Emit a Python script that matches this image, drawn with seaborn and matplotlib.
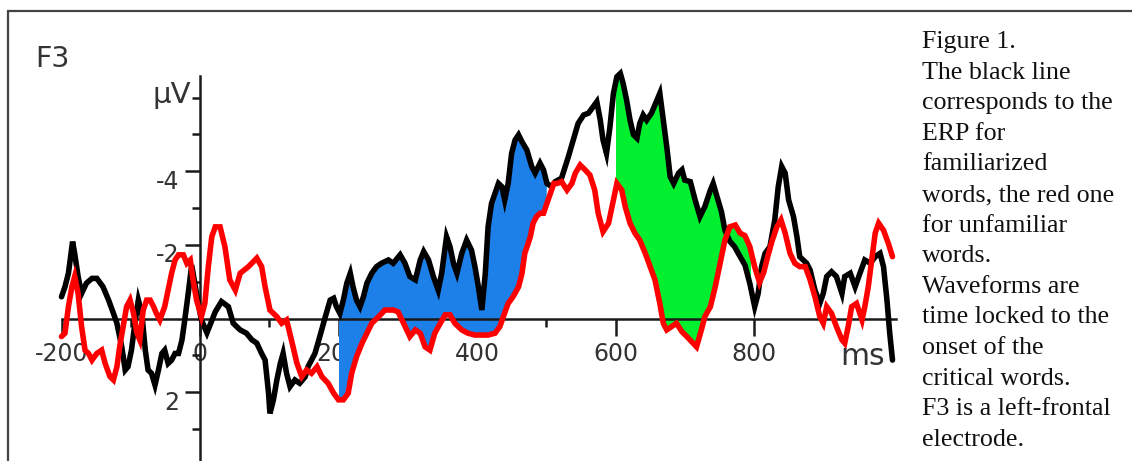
import numpy as np
import matplotlib
matplotlib.use("Agg")
import matplotlib.pyplot as plt
import matplotlib.transforms as mtransforms
from matplotlib.patches import Rectangle
import seaborn as sns

# ---------------- data ----------------
black_t = [-200, -195, -190, -185, -184, -181, -176, -171, -164, -156, -149, -140, -132, -125,
           -120, -113, -108, -104, -99, -94, -89, -84, -79, -75, -70, -65, -60, -55, -51, -46,
           -41, -36, -31, -26, -22, -17, -12, -5, 2, 10, 22, 31, 41, 48, 58, 67, 75, 82, 89,
           94, 99, 101, 106, 111, 116, 120, 125, 130, 137, 144, 152, 156, 161, 166, 173, 181,
           188, 193, 197, 202, 207, 212, 217, 221, 226, 231, 236, 241, 248, 255, 262, 272, 279,
           289, 296, 303, 311, 318, 323, 330, 337, 344, 349, 354, 356, 361, 366, 371, 378, 385,
           392, 397, 402, 407, 412, 416, 421, 426, 431, 436, 440, 445, 450, 455, 460, 465, 472,
           479, 484, 491, 496, 501, 508, 513, 522, 532, 539, 546, 554, 561, 568, 573, 578, 582,
           587, 592, 597, 602, 607, 611, 616, 621, 626, 631, 635, 640, 645, 652, 660, 664, 669,
           674, 679, 684, 691, 696, 700, 708, 715, 722, 729, 737, 741, 748, 753, 758, 765, 772,
           780, 787, 794, 801, 806, 811, 816, 823, 830, 835, 840, 845, 850, 857, 862, 866, 876,
           881, 888, 895, 900, 905, 912, 919, 927, 931, 939, 946, 953, 960, 968, 975, 982, 987,
           992, 996, 1000]
black_v = [-0.59, -0.86, -1.23, -1.95, -2.09, -1.77, -1.14, -0.68, -0.96, -1.09, -1.09, -0.86,
           -0.50, -0.14, 0.13, 0.77, 1.40, 1.31, 0.86, 0.13, -0.50, -0.14, 0.86, 1.40, 1.49,
           1.81, 1.40, 0.95, 0.86, 1.22, 1.13, 0.95, 0.95, 0.58, 0.04, -0.68, -1.45, -0.68,
           0.04, 0.39, -0.18, -0.46, -0.32, 0.13, 0.31, 0.40, 0.58, 0.67, 0.95, 1.13, 2.03,
           2.58, 2.21, 1.67, 1.22, 0.95, 1.49, 1.85, 1.67, 1.76, 1.58, 1.31, 1.13, 0.95, 0.49,
           -0.05, -0.50, -0.55, -0.32, -0.14, -0.50, -0.96, -1.23, -0.86, -0.50, -0.32, -0.59,
           -0.96, -1.23, -1.41, -1.50, -1.59, -1.50, -1.73, -1.50, -1.14, -1.05, -1.59, -1.82,
           -1.59, -1.14, -0.77, -1.23, -1.95, -2.22, -1.95, -1.50, -1.23, -1.77, -2.13, -1.86,
           -1.41, -0.86, -0.23, -1.23, -2.49, -3.13, -3.40, -3.67, -3.58, -3.22, -3.67, -4.49,
           -4.85, -4.99, -4.80, -4.58, -4.13, -3.95, -4.22, -4.04, -3.67, -3.58, -3.72, -3.81,
           -4.40, -4.85, -5.30, -5.53, -5.58, -5.76, -5.89, -5.39, -4.85, -4.49, -5.21, -6.12,
           -6.57, -6.66, -6.39, -5.94, -5.39, -4.99, -4.90, -5.30, -5.53, -5.39, -5.58, -5.94,
           -6.12, -5.39, -4.67, -3.85, -3.67, -3.95, -4.04, -3.76, -3.72, -3.22, -2.77, -3.04,
           -3.49, -3.67, -3.22, -2.90, -2.40, -2.10, -1.95, -1.68, -1.45, -0.95, -0.32, -0.68,
           -1.41, -1.77, -1.95, -2.68, -3.58, -4.13, -3.95, -3.22, -2.77, -2.22, -1.68, -1.50,
           -1.32, -0.77, -0.41, -0.68, -1.14, -1.27, -1.14, -0.68, -1.14, -1.23, -0.86, -1.23,
           -1.59, -1.50, -1.68, -1.77, -1.41, -0.50, 0.40, 1.13]

red_t = [-200, -195, -190, -185, -181, -176, -171, -166, -161, -156, -149, -142, -137, -130,
         -125, -120, -116, -111, -106, -101, -96, -91, -87, -82, -77, -72, -67, -63, -58, -51,
         -46, -41, -36, -31, -24, -19, -14, -10, -5, 2, 7, 12, 17, 22, 29, 36, 43, 51, 58, 70,
         82, 89, 94, 101, 111, 118, 125, 132, 140, 147, 154, 161, 169, 176, 185, 193, 200, 207,
         214, 219, 226, 234, 241, 248, 258, 267, 279, 286, 294, 303, 311, 318, 325, 332, 339,
         347, 354, 361, 368, 378, 387, 397, 407, 416, 426, 433, 438, 445, 452, 460, 465, 469,
         477, 481, 486, 491, 496, 501, 506, 511, 516, 522, 530, 537, 542, 549, 556, 563, 570,
         575, 582, 590, 597, 602, 609, 614, 621, 628, 635, 643, 650, 657, 664, 669, 674, 681,
         688, 696, 703, 710, 717, 724, 729, 737, 744, 751, 758, 765, 773, 780, 787, 794, 801,
         808, 814, 820, 826, 833, 839, 845, 852, 859, 866, 874, 881, 888, 895, 900, 905, 912,
         919, 927, 931, 936, 941, 948, 956, 960, 965, 970, 975, 980, 987, 994, 1000]
red_v = [0.49, 0.40, -0.32, -0.86, -1.14, -0.68, 0.22, 0.86, 0.95, 1.13, 0.95, 0.86, 1.22,
         1.58, 1.67, 1.31, 0.77, 0.22, -0.32, -0.50, -0.14, 0.40, 0.58, -0.23, -0.50, -0.50,
         -0.32, -0.14, 0.04, -0.32, -0.77, -1.23, -1.59, -1.73, -1.73, -1.50, -1.59, -1.05,
         -0.50, -0.05, -0.41, -1.41, -2.22, -2.49, -2.49, -1.95, -1.05, -0.77, -1.23, -1.41,
         -1.64, -1.41, -0.86, -0.23, -0.05, 0.13, 0.04, 0.58, 1.22, 1.58, 1.40, 1.49, 1.31,
         1.58, 1.76, 2.03, 2.21, 2.21, 2.03, 1.49, 1.04, 0.67, 0.40, 0.13, -0.05, -0.23,
         -0.23, -0.18, 0.13, 0.49, 0.31, 0.40, 0.77, 0.86, 0.40, 0.13, -0.10, -0.10, 0.13,
         0.31, 0.40, 0.45, 0.45, 0.45, 0.40, 0.22, -0.05, -0.41, -0.59, -0.86, -1.23, -1.77,
         -2.22, -2.59, -2.77, -2.86, -2.86, -3.13, -3.40, -3.67, -3.67, -3.72, -3.49, -3.67,
         -3.95, -4.17, -4.04, -3.90, -3.49, -2.86, -2.36, -2.59, -3.22, -3.67, -3.49, -3.04,
         -2.59, -2.32, -2.13, -1.77, -1.41, -1.05, -0.41, 0.13, 0.31, 0.22, 0.13, 0.36, 0.49,
         0.63, 0.77, 0.31, -0.05, -0.32, -0.86, -1.50, -2.13, -2.49, -2.54, -2.32, -2.25,
         -1.95, -1.40, -0.98, -1.25, -1.70, -2.10, -2.49, -2.68, -2.32, -1.77, -1.50, -1.41,
         -1.41, -1.05, -0.59, -0.05, 0.13, -0.32, -0.14, 0.22, 0.58, 0.67, 0.22, -0.32, -0.41,
         0.04, -0.32, -0.86, -1.59, -2.32, -2.59, -2.40, -2.04, -1.68]

x_major = [-200, 0, 200, 400, 600, 800]
x_minor = [-100, 100, 300, 500, 700, 900]
x_labels = ["-200", "0", "200", "400", "600", "800"]
y_major = [-4, -2, 2]
y_minor = [-6, -5, -3, -1, 1, 3]
y_labels = ["-4", "-2", "2"]
blue_window = (200, 500)
green_window = (600, 795)

caption_lines = ["Figure 1.", "The black line", "corresponds to the", "ERP for",
                 "familiarized", "words, the red one", "for unfamiliar", "words.",
                 "Waveforms are", "time locked to the", "onset of the", "critical words.",
                 "F3 is a left-frontal", "electrode."]

# ---------------- layout (pixels) ----------------
W, H, DPI = 1132, 461, 100
X0_PX, PX_PER_MS = 200.0, 0.6925     # x pixel of t=0, pixels per ms
Y0_PX, PX_PER_UV = 318.5, 36.8       # y pixel of 0 uV, pixels per uV (negative up)

sns.set_style("white")
plt.rcParams["font.family"] = ["DejaVu Sans"]

fig = plt.figure(figsize=(W / DPI, H / DPI), dpi=DPI)
fig.patch.set_facecolor("white")
ax = fig.add_axes([0, 0, 1, 1])
ax.patch.set_alpha(0)

ax.set_xlim(-X0_PX / PX_PER_MS, (W - X0_PX) / PX_PER_MS)
ax.set_ylim((H - Y0_PX) / PX_PER_UV, -Y0_PX / PX_PER_UV)

bt = np.array(black_t, float); bv = np.array(black_v, float)
rt = np.array(red_t, float); rv = np.array(red_v, float)


def fill_between_curves(lo, hi, color):
    grid = np.union1d(bt[(bt >= lo) & (bt <= hi)], rt[(rt >= lo) & (rt <= hi)])
    grid = np.union1d(grid, [lo, hi])
    ax.fill_between(grid, np.interp(grid, bt, bv), np.interp(grid, rt, rv),
                    color=color, linewidth=0, zorder=1)


fill_between_curves(*blue_window, "#1c80e8")
fill_between_curves(*green_window, "#00f030")

sns.lineplot(x=bt, y=bv, ax=ax, color="black", linewidth=4.0, estimator=None,
             zorder=3, solid_joinstyle="miter")
sns.lineplot(x=rt, y=rv, ax=ax, color="#ff0000", linewidth=4.0, estimator=None,
             zorder=4, solid_joinstyle="miter")

# axes through the origin
ax.set_axisbelow(True)
for s in ["top", "right"]:
    ax.spines[s].set_visible(False)
ax.spines["left"].set_position(("data", 0))
ax.spines["bottom"].set_position(("data", 0))
ax.spines["left"].set_bounds(ax.get_ylim()[0], -6.6)
ax.spines["bottom"].set_bounds(-200, 1005)
for s in ["left", "bottom"]:
    ax.spines[s].set_color("#1a1a1a")
    ax.spines[s].set_linewidth(1.8)
    ax.spines[s].set_zorder(2.5)

ax.set_xticks(x_major)
ax.set_xticklabels(x_labels)
ax.set_xticks(x_minor, minor=True)
ax.set_yticks(y_major)
ax.set_yticklabels(y_labels)
ax.set_yticks(y_minor, minor=True)

ax.tick_params(axis="x", which="both", bottom=True, top=False)
ax.tick_params(axis="y", which="both", left=True, right=False)
ax.tick_params(axis="x", which="major", direction="out", length=12, width=1.8, pad=5,
               labelsize=17, colors="#1a1a1a", labelcolor="#333333")
ax.tick_params(axis="x", which="minor", direction="out", length=6, width=1.8,
               colors="#1a1a1a")
ax.tick_params(axis="y", which="major", direction="out", length=11, width=1.8, pad=4,
               labelsize=17, colors="#1a1a1a", labelcolor="#333333")
ax.tick_params(axis="y", which="minor", direction="out", length=6, width=1.8,
               colors="#1a1a1a")
ax.grid(False)

shift = mtransforms.ScaledTranslation(0, -8 / DPI, fig.dpi_scale_trans)
for lab in ax.get_yticklabels():
    lab.set_transform(lab.get_transform() + shift)

ax.annotate("µV", xy=(0, -6), xytext=(-9, 3), textcoords="offset pixels",
            ha="right", va="center", fontsize=21, color="#333333")


def fx(px):
    return px / W


def fy(py):
    return 1 - py / H


fig.text(fx(35), fy(67), "F3", fontsize=20.5, color="#333333", va="baseline", ha="left")
fig.text(fx(840), fy(365), "ms", fontsize=21.5, color="#333333", va="baseline", ha="left")

for i, line in enumerate(caption_lines):
    fig.text(fx(922), fy(48 + i * 30.6), line, fontsize=18.7, family="Liberation Serif",
             color="#111111", va="baseline", ha="left")

fig.add_artist(Rectangle((fx(8), fy(H + 20)), fx(W + 20 - 8), (H + 20 - 11.5) / H,
                         transform=fig.transFigure, fill=False, edgecolor="#444444",
                         linewidth=1.6))

fig.savefig("out.png", dpi=DPI, facecolor="white")
